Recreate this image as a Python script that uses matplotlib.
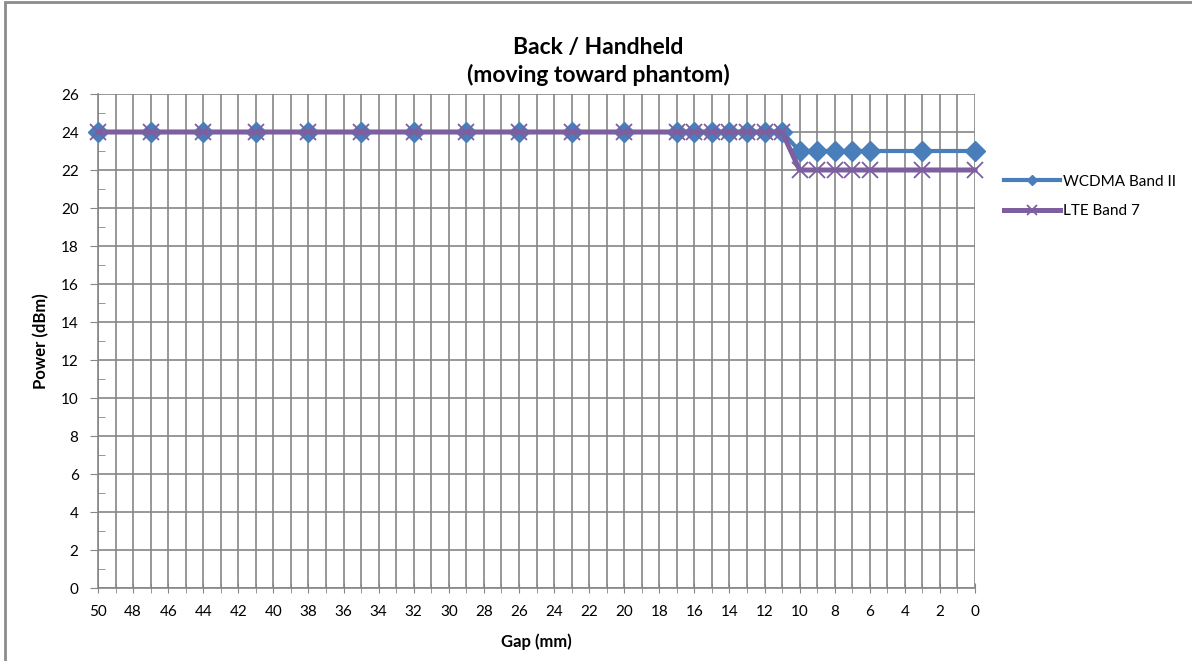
import numpy as np
import matplotlib.pyplot as plt
from matplotlib.ticker import MultipleLocator
from matplotlib.patches import Rectangle

plt.rcParams['font.family'] = ['Lato', 'DejaVu Sans']

gap_mm = [50, 47, 44, 41, 38, 35, 32, 29, 26, 23, 20, 17, 16, 15, 14, 13, 12, 11,
          10, 9, 8, 7, 6, 3, 0]
wcdma_band2 = [24, 24, 24, 24, 24, 24, 24, 24, 24, 24, 24, 24, 24, 24, 24, 24, 24, 24,
               23, 23, 23, 23, 23, 23, 23]
lte_band7 = [24, 24, 24, 24, 24, 24, 24, 24, 24, 24, 24, 24, 24, 24, 24, 24, 24, 24,
             22, 22, 22, 22, 22, 22, 22]

W, H = 1192, 661
fig = plt.figure(figsize=(W / 100, H / 100), dpi=100)
ax = fig.add_axes([98 / W, 1 - 588 / H, (975 - 98) / W, (588 - 94) / H])

grid_c = '#868686'
ax.plot(gap_mm, wcdma_band2, color='#4A7EBB', lw=3, marker='D', ms=10,
        mfc='#4A7EBB', mec='#4A7EBB', label='WCDMA Band II', zorder=3, clip_on=False)
ax.plot(gap_mm, lte_band7, color='#7D5FA0', lw=3.6, marker='x', ms=12, mew=1.3,
        mec='#7D5FA0', label='LTE Band 7', zorder=4, clip_on=False)

ax.set_xlim(50, 0)
ax.set_ylim(0, 26)
ax.xaxis.set_major_locator(MultipleLocator(2))
ax.xaxis.set_minor_locator(MultipleLocator(1))
ax.yaxis.set_major_locator(MultipleLocator(2))
ax.yaxis.set_minor_locator(MultipleLocator(1))
ax.grid(True, which='both', axis='x', color=grid_c, lw=1.2)
ax.grid(True, which='major', axis='y', color=grid_c, lw=1.2)
ax.set_axisbelow(True)

for s in ['top', 'right']:
    ax.spines[s].set_visible(False)
for s in ['left', 'bottom']:
    ax.spines[s].set_color(grid_c)
    ax.spines[s].set_linewidth(1.2)

ax.tick_params(axis='x', which='both', direction='inout', length=7, color=grid_c,
               labelsize=11, pad=9)
ax.tick_params(axis='y', which='major', direction='out', length=6, color=grid_c,
               labelsize=11, pad=8)
ax.tick_params(axis='y', which='minor', direction='in', length=5, color=grid_c)

# title is centred on the whole chart area, not the plot area
ax.set_title('Back / Handheld\n(moving toward phantom)', fontsize=16.5,
             fontweight='bold', pad=9, linespacing=1.3, x=(598 - 98) / (975 - 98))
ax.set_xlabel('Gap (mm)', fontsize=12, fontweight='bold', labelpad=10)
ax.set_ylabel('Power (dBm)', fontsize=12, fontweight='bold', labelpad=8)

fig.legend(loc='upper left', bbox_to_anchor=(990 / W, 1 - 161 / H), frameon=False,
           fontsize=11, handlelength=3.7, labelspacing=1.0, handletextpad=0.2,
           markerscale=0.55)

fig.patches.append(Rectangle((5 / W, -0.01), 1.1, 1 - 2 / H + 0.01,
                             transform=fig.transFigure, fill=False,
                             ec='#8c8c8c', lw=2))

fig.savefig('out.png', dpi=100)
